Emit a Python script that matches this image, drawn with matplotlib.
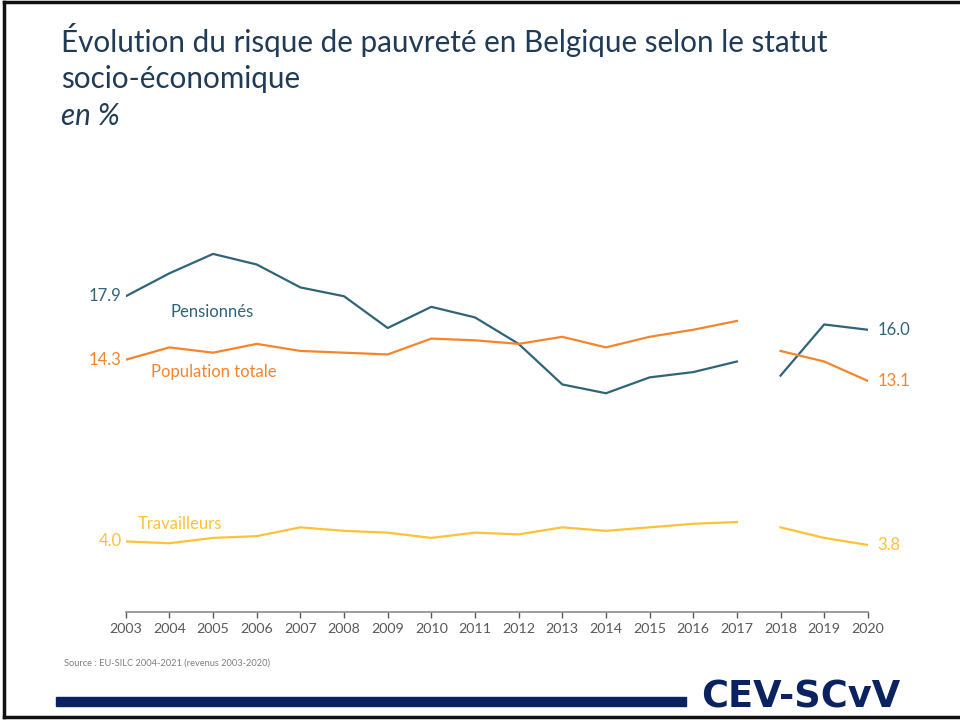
import numpy as np
import matplotlib.pyplot as plt
from matplotlib.lines import Line2D
from matplotlib.patches import Rectangle

years = list(range(2003, 2021))

# 2018 starts a new series (break after 2017)
pensionnes = [17.9, 19.2, 20.3, 19.7, 18.4, 17.9, 16.1, 17.3, 16.7, 15.2,
              12.9, 12.4, 13.3, 13.6, 14.2, 13.4, 16.3, 16.0]
population = [14.3, 15.0, 14.7, 15.2, 14.8, 14.7, 14.6, 15.5, 15.4, 15.2,
              15.6, 15.0, 15.6, 16.0, 16.5, 14.8, 14.2, 13.1]
travailleurs = [4.0, 3.9, 4.2, 4.3, 4.8, 4.6, 4.5, 4.2, 4.5, 4.4,
                4.8, 4.6, 4.8, 5.0, 5.1, 4.8, 4.2, 3.8]
BREAK = 15

title_lines = ["Évolution du risque de pauvreté en Belgique selon le statut",
               "socio-économique"]
subtitle = "en %"
source = "Source : EU-SILC 2004-2021 (revenus 2003-2020)"

C_PEN = "#2f6479"
C_POP = "#f5852a"
C_TRA = "#fdc236"
C_NAVY = "#0b2260"
C_TITLE = "#1f3b57"
C_GREY = "#595959"

plt.rcParams['font.family'] = ['Lato', 'DejaVu Sans']

fig = plt.figure(figsize=(9.6, 7.2), dpi=100)
ax = fig.add_axes([0.131, 0.15, 0.773, 0.539])

for series, col in [(pensionnes, C_PEN), (population, C_POP), (travailleurs, C_TRA)]:
    ax.plot(years[:BREAK], series[:BREAK], color=col, lw=1.6)
    ax.plot(years[BREAK:], series[BREAK:], color=col, lw=1.6)
    ax.annotate(f"{series[0]:.1f}", (years[0], series[0]), xytext=(-3, 0),
                textcoords='offset points', ha='right', va='center',
                color=col, fontsize=12)
    ax.annotate(f"{series[-1]:.1f}", (years[-1], series[-1]), xytext=(7, 0),
                textcoords='offset points', ha='left', va='center',
                color=col, fontsize=12)

ax.set_xlim(2003, 2020)
ax.set_ylim(0, 22)
ax.set_xticks(years)
ax.tick_params(axis='x', colors=C_GREY, labelsize=10.3, length=4, width=1, pad=4)
ax.tick_params(axis='y', left=False, labelleft=False)
for s in ['top', 'right', 'left']:
    ax.spines[s].set_visible(False)
ax.spines['bottom'].set_color('#8c8c8c')
ax.spines['bottom'].set_linewidth(1.2)

ax.text(2004.97, 17.0, "Pensionnés", color=C_PEN, fontsize=12, ha='center', va='center')
ax.text(2005.02, 13.6, "Population totale", color=C_POP, fontsize=12, ha='center', va='center')
ax.text(2004.24, 5.0, "Travailleurs", color=C_TRA, fontsize=12, ha='center', va='center')

fig.text(0.064, 1 - 52 / 720, title_lines[0], color=C_TITLE, fontsize=21.3,
         ha='left', va='baseline')
fig.text(0.064, 1 - 88 / 720, title_lines[1], color=C_TITLE, fontsize=21.3,
         ha='left', va='baseline')
fig.text(0.064, 1 - 125 / 720, subtitle, color=C_TITLE, fontsize=21.3,
         ha='left', va='baseline', style='italic')
fig.text(0.067, 0.079, source, color='#7f7f7f', fontsize=6.7, ha='left', va='center')

# logo bar and text
fig.patches.append(Rectangle((56 / 960, 1 - 706 / 720), 630 / 960, 9 / 720,
                             transform=fig.transFigure, color=C_NAVY))
fig.text(0.9375, 1 - 708 / 720, "CEV-SCvV", color=C_NAVY, fontsize=26.5,
         fontweight='bold', ha='right', va='baseline', family='DejaVu Sans')

# slide border
for xs, ys in [([4 / 960, 4 / 960], [0.004, 0.997]),
               ([0.004, 1.0], [0.997, 0.997]),
               ([0.004, 1.0], [1 - 717 / 720, 1 - 717 / 720])]:
    fig.add_artist(Line2D(xs, ys, transform=fig.transFigure, color='#111111', lw=2.5))

fig.savefig("out.png", dpi=100)
